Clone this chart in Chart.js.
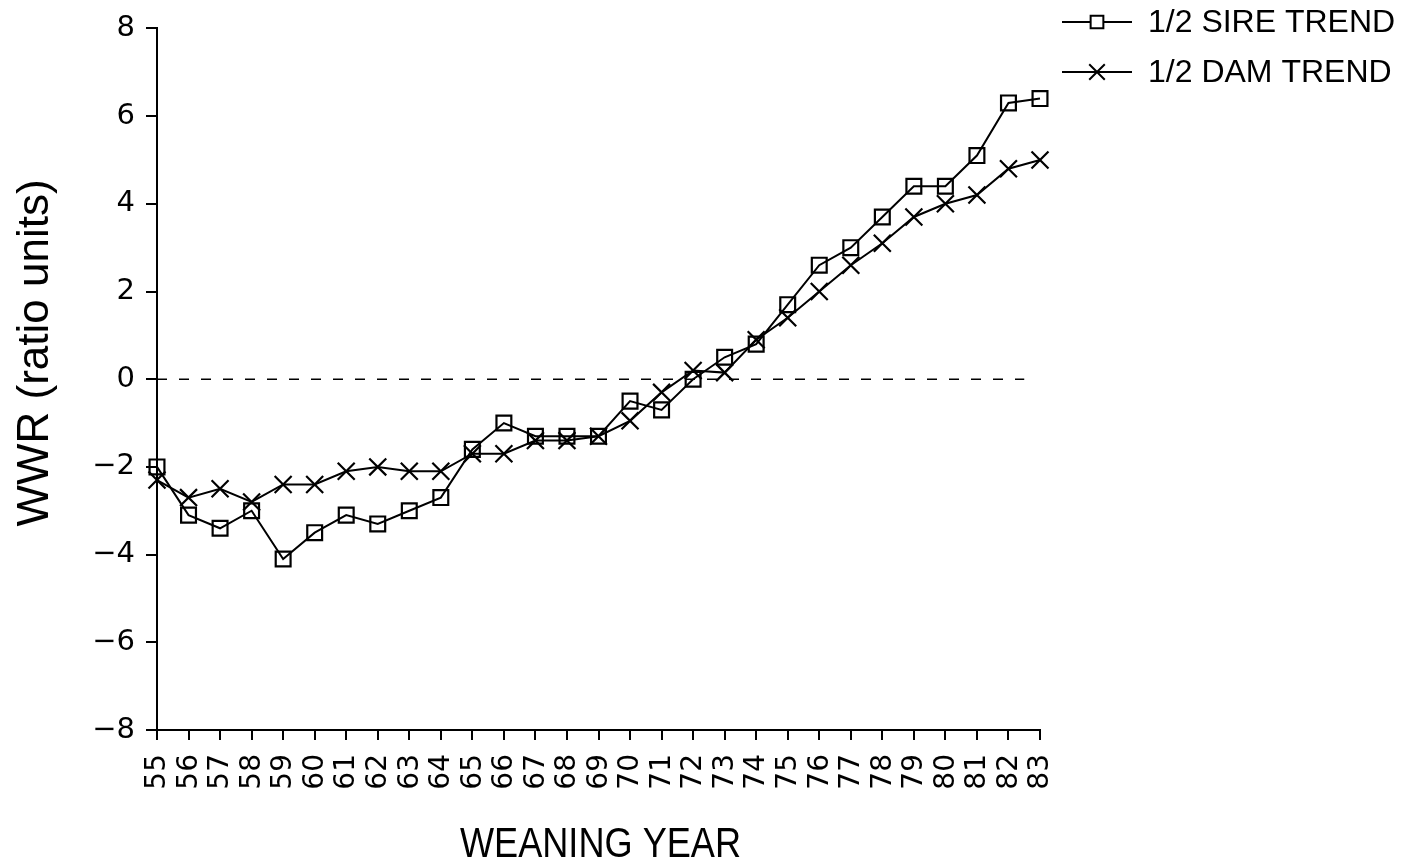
<!DOCTYPE html>
<html>
<head>
<meta charset="utf-8">
<script src="https://cdn.jsdelivr.net/npm/chart.js@4.4.1/dist/chart.umd.min.js"></script>
<style>
  html, body { margin: 0; padding: 0; background: #fff; }
  #wrap { width: 1405px; height: 862px; }
</style>
</head>
<body>
<div id="wrap"><canvas id="trendChart" width="1405" height="862"></canvas></div>
<script>
// weaning years (19xx)
const years = ['55','56','57','58','59','60','61','62','63','64','65','66','67','68','69',
               '70','71','72','73','74','75','76','77','78','79','80','81','82','83'];

// 1/2 sire trend (squares)
const sireTrend = [-2.0, -3.1, -3.4, -3.0, -4.1, -3.5, -3.1, -3.3, -3.0, -2.7, -1.6, -1.0, -1.3, -1.3, -1.3,
                   -0.5, -0.7, 0.0, 0.5, 0.8, 1.7, 2.6, 3.0, 3.7, 4.4, 4.4, 5.1, 6.3, 6.4];

// 1/2 dam trend (crosses)
const damTrend = [-2.3, -2.7, -2.5, -2.8, -2.4, -2.4, -2.1, -2.0, -2.1, -2.1, -1.7, -1.7, -1.4, -1.4, -1.3,
                  -0.95, -0.3, 0.2, 0.15, 0.9, 1.4, 2.0, 2.6, 3.1, 3.7, 4.0, 4.2, 4.8, 5.0];

const yTicks = [-8, -6, -4, -2, 0, 2, 4, 6, 8];

const titleFont = "'Liberation Sans', Arial, sans-serif";
const tickFont = "'DejaVu Sans', sans-serif";

// dashed reference line at zero
const zeroLine = {
    id: 'zeroLine',
    beforeDatasetsDraw(chart) {
        const { ctx, scales } = chart;
        const y = scales.y.getPixelForValue(0);
        ctx.save();
        ctx.strokeStyle = '#000';
        ctx.lineWidth = 1.6;
        ctx.setLineDash([10, 12]);
        ctx.beginPath();
        ctx.moveTo(scales.x.left, y);
        ctx.lineTo(scales.x.getPixelForValue(years.length - 1.5), y);
        ctx.stroke();
        ctx.restore();
    }
};

// x tick labels reading bottom-to-top + axis titles
const axisText = {
    id: 'axisText',
    afterDraw(chart) {
        const { ctx, scales, chartArea } = chart;
        const xs = scales.x;
        ctx.save();
        ctx.fillStyle = '#000';
        ctx.font = '28px ' + tickFont;
        ctx.textAlign = 'right';
        ctx.textBaseline = 'middle';
        years.forEach((yr, i) => {
            ctx.save();
            ctx.translate(xs.getPixelForTick(i) + 1, xs.top + 24);
            ctx.rotate(-Math.PI / 2);
            ctx.fillText(yr, 0, 0);
            ctx.restore();
        });

        // x title, slightly condensed
        ctx.save();
        ctx.font = '42px ' + titleFont;
        ctx.textAlign = 'center';
        ctx.textBaseline = 'alphabetic';
        ctx.translate((chartArea.left + chartArea.right) / 2 + 2, 857);
        ctx.scale(0.86, 1);
        ctx.fillText('WEANING YEAR', 0, 0);
        ctx.restore();

        // y title
        ctx.save();
        ctx.font = '44px ' + titleFont;
        ctx.textAlign = 'center';
        ctx.textBaseline = 'alphabetic';
        ctx.translate(48, 353);
        ctx.rotate(-Math.PI / 2);
        ctx.fillText('WWR (ratio units)', 0, 0);
        ctx.restore();
        ctx.restore();
    }
};

// legend with line + marker, top right
const sideLegend = {
    id: 'sideLegend',
    afterDraw(chart) {
        const ctx = chart.ctx;
        const rows = [
            { text: '1/2 SIRE TREND', style: 'rect', y: 22 },
            { text: '1/2 DAM TREND', style: 'crossRot', y: 72 }
        ];
        ctx.save();
        rows.forEach(r => {
            ctx.strokeStyle = '#000';
            ctx.lineWidth = 2;
            ctx.beginPath();
            ctx.moveTo(1062, r.y);
            ctx.lineTo(1132, r.y);
            ctx.stroke();
            ctx.fillStyle = '#fff';
            Chart.helpers.drawPoint(ctx, {
                pointStyle: r.style,
                radius: r.style === 'rect' ? 9 : 11,
                borderWidth: 2
            }, 1097, r.y);
            ctx.fillStyle = '#000';
            ctx.font = '32px ' + titleFont;
            ctx.textAlign = 'left';
            ctx.textBaseline = 'middle';
            ctx.fillText(r.text, 1148, r.y + 1);
        });
        ctx.restore();
    }
};

new Chart(document.getElementById('trendChart'), {
    type: 'line',
    data: {
        labels: years,
        datasets: [{
            label: '1/2 SIRE TREND',
            data: sireTrend,
            borderColor: '#000',
            borderWidth: 2,
            pointStyle: 'rect',
            pointRadius: 10.5,
            pointBorderWidth: 2.2,
            pointBorderColor: '#000',
            pointBackgroundColor: 'rgba(0,0,0,0)',
            tension: 0
        }, {
            label: '1/2 DAM TREND',
            data: damTrend,
            borderColor: '#000',
            borderWidth: 2,
            pointStyle: 'crossRot',
            pointRadius: 12,
            pointBorderWidth: 2.2,
            pointBorderColor: '#000',
            tension: 0
        }]
    },
    options: {
        responsive: false,
        animation: false,
        layout: { padding: { left: 10, right: 365, top: 22, bottom: 6 } },
        plugins: {
            legend: { display: false },
            tooltip: { enabled: false }
        },
        scales: {
            x: {
                type: 'category',
                offset: false,
                grid: { drawOnChartArea: false, drawTicks: true, tickLength: 10, color: '#000', lineWidth: 2 },
                border: { display: true, color: '#000', width: 2 },
                ticks: { display: false },
                afterFit(scale) { scale.height = 126; }
            },
            y: {
                min: -8,
                max: 8,
                afterBuildTicks(scale) { scale.ticks = yTicks.map(v => ({ value: v })); },
                grid: { drawOnChartArea: false, drawTicks: true, tickLength: 11, color: '#000', lineWidth: 2 },
                border: { display: true, color: '#000', width: 2 },
                ticks: {
                    color: '#000',
                    font: { family: tickFont, size: 29 },
                    padding: 11,
                    callback: v => (v < 0 ? '\u2212' + Math.abs(v) : String(v))
                },
                afterFit(scale) { scale.width = 147; }
            }
        }
    },
    plugins: [zeroLine, axisText, sideLegend]
});
</script>
</body>
</html>
